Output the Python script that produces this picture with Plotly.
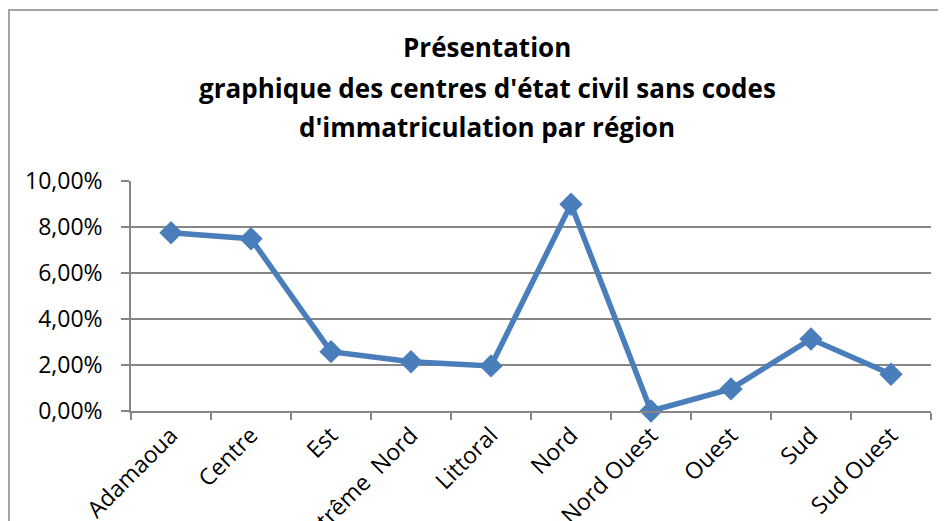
import plotly.graph_objects as go

regions = ["Adamaoua", "Centre", "Est", "Extrême  Nord", "Littoral", "Nord",
           "Nord Ouest", "Ouest", "Sud", "Sud Ouest"]
values = [0.0775, 0.0749, 0.0258, 0.0214, 0.0196, 0.0899, 0.0, 0.0096, 0.0313, 0.0160]
y_ticks = [0, 0.02, 0.04, 0.06, 0.08, 0.10]
title_lines = ["Présentation",
               "graphique des centres d'état civil sans codes",
               "d'immatriculation par région"]

OFF = 8  # page body margin
W, H = 946 - OFF, 521 - OFF
L, R, T, B = 131 - OFF, 931 - OFF, 181 - OFF, 411 - OFF
pw, ph = R - L, B - T

def px_x(x):
    return (x - OFF - L) / pw

def px_y(y):
    return (B - (y - OFF)) / ph

blue = "#4A7EBB"
gray = "#868686"
font = "Open Sans"

fig = go.Figure()
fig.add_trace(go.Scatter(
    x=regions, y=values, mode="lines+markers",
    line=dict(color=blue, width=5.5),
    marker=dict(symbol="diamond", size=18, color=blue),
    cliponaxis=False, showlegend=False,
))

annotations = []
for line, yc in zip(title_lines, [47, 88, 127]):
    annotations.append(dict(
        text=f"<b>{line}</b>", x=px_x(487), y=px_y(yc), xref="paper", yref="paper",
        xanchor="center", yanchor="middle", showarrow=False,
        font=dict(family=font, size=26, color="black"),
    ))

fig.update_layout(
    width=W, height=H,
    margin=dict(l=L, r=W - R, t=T, b=H - B, pad=0),
    paper_bgcolor="white", plot_bgcolor="white",
    separators=",.",
    annotations=annotations,
    shapes=[dict(type="rect", xref="paper", yref="paper",
                 x0=px_x(9), x1=px_x(1100), y0=px_y(800), y1=px_y(10),
                 line=dict(color=gray, width=1.5), layer="below")],
    xaxis=dict(
        type="category", automargin=False, tickangle=-45,
        tickson="boundaries", ticks="outside", ticklen=7, tickcolor=gray, tickwidth=1.5,
        showline=True, linecolor=gray, linewidth=1.5, showgrid=False,
        tickfont=dict(family=font, size=23, color="black"),
        range=[-0.5, len(regions) - 0.5],
    ),
    yaxis=dict(
        range=[0, 0.10], tickvals=y_ticks, tickformat=".2%", automargin=False,
        ticks="outside", ticklen=8, tickcolor=gray, tickwidth=1.5,
        showline=True, linecolor=gray, linewidth=1.5,
        showgrid=True, gridcolor=gray, gridwidth=1.5, zeroline=False,
        tickfont=dict(family=font, size=23, color="black"),
        ticklabelstandoff=14,
    ),
)

fig.write_html("out.html")
